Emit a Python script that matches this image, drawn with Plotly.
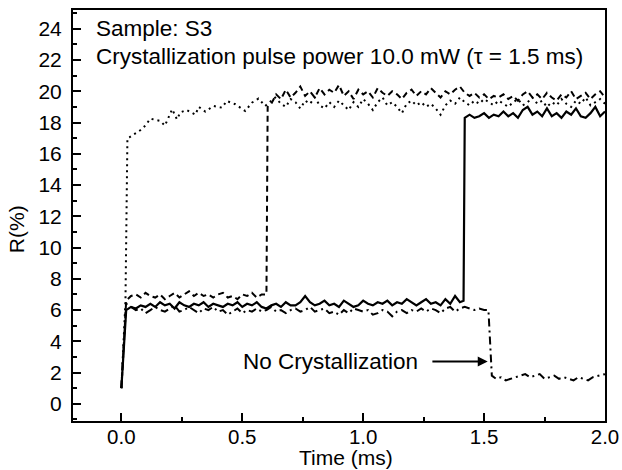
import plotly.graph_objects as go

# ---------------- data ----------------
def grid(a, b, step=0.02):
    n = int(round((b - a) / step)) + 1
    return [round(a + i * step, 3) for i in range(n)]

# Solid curve (crystallizes at ~1.42 ms)
solid_t = [0.0] + grid(0.02, 1.40) + [1.415] + grid(1.42, 2.00)
solid_r = ([1.0] +
           [6.0, 6.2, 6.1, 6.3, 6.2, 6.4, 6.2, 6.5, 6.3, 6.4,
            6.1, 6.5, 6.3, 6.2, 6.4, 6.3, 6.5, 6.2, 6.4, 6.3,
            6.2, 6.4, 6.3, 6.5, 6.2, 6.4, 6.3, 6.5, 6.2, 6.1,
            6.3, 6.4, 6.2, 6.5, 6.3, 6.3, 6.5, 6.9, 6.5, 6.3,
            6.4, 6.6, 6.3, 6.4, 6.2, 6.6, 6.4, 6.2, 6.3, 6.6,
            6.4, 6.3, 6.5, 6.4, 6.6, 6.3, 6.5, 6.4, 6.7, 6.5,
            6.3, 6.5, 6.7, 6.4, 6.5, 6.3, 6.7, 6.4, 6.9, 6.5] +
           [6.6] +
           [18.3, 18.5, 18.3, 18.4, 18.6, 18.3, 18.5, 18.4, 18.7, 18.4,
            18.6, 18.3, 18.8, 19.0, 18.5, 18.7, 18.4, 18.9, 18.4, 18.6,
            18.3, 18.7, 18.5, 18.9, 18.4, 18.3, 18.6, 19.0, 18.4, 18.7])

# Dashed curve (crystallizes at ~0.6 ms)
dash_t = [0.0] + grid(0.02, 0.60) + [0.605] + grid(0.62, 2.00)
dash_r = ([1.0] +
          [6.6, 6.9, 7.0, 6.8, 7.1, 6.9, 6.8, 7.0, 6.7, 6.9,
           7.1, 6.8, 7.0, 7.2, 6.9, 7.1, 6.9, 7.0, 6.8, 7.0,
           7.1, 6.8, 6.9, 6.7, 7.0, 6.9, 7.1, 6.8, 7.0, 7.0] +
          [19.0] +
          [19.2, 19.8, 19.5, 20.1, 19.6, 19.9, 20.3, 19.7, 20.0, 19.6,
           20.2, 19.8, 20.1, 19.9, 20.4, 19.7, 20.0, 19.5, 20.1, 19.8,
           20.0, 19.6, 20.2, 19.9, 19.7, 20.0, 19.8, 19.5, 19.9, 20.1,
           19.7, 20.0, 19.8, 20.2, 19.9, 19.6, 20.0, 19.8, 20.1, 20.3,
           19.9, 19.7, 19.9, 19.6, 19.8, 19.5, 19.7, 19.6, 19.8, 19.5,
           19.7, 19.4, 19.8, 20.0, 19.6, 19.8, 19.5, 19.9, 19.6, 19.4,
           19.8, 19.6, 20.0, 19.5, 19.7, 19.9, 19.5, 19.8, 20.0, 19.6])

# Dotted curve (crystallizes almost immediately)
dot_t = ([0.0, 0.017, 0.025,
          0.033, 0.058, 0.078, 0.099, 0.12, 0.133, 0.161, 0.18, 0.195, 0.21,
          0.23, 0.244, 0.27, 0.306, 0.32, 0.347, 0.381, 0.416, 0.436, 0.471,
          0.512, 0.54, 0.567, 0.595, 0.636] + grid(0.66, 2.00))
dot_r = ([1.0, 6.6, 17.0,
          17.05, 17.3, 17.5, 17.8, 18.25, 18.2, 18.1, 17.8, 18.3, 18.85,
          18.2, 18.65, 18.8, 18.5, 19.0, 18.7, 19.06, 18.95, 19.38, 19.17,
          18.74, 19.27, 19.53, 19.06, 19.6] +
         [19.2, 19.0, 19.5, 19.3, 18.9, 19.4, 19.2, 19.6, 19.1, 18.9,
          19.3, 19.0, 19.4, 19.1, 18.8, 19.3, 19.0, 19.5, 19.2, 18.8,
          19.3, 19.6, 19.1, 19.3, 19.0, 18.6, 19.2, 19.4, 19.1, 19.3,
          19.0, 19.2, 18.9, 18.5, 19.1, 19.4, 19.2, 19.6, 19.3, 19.1,
          19.4, 19.2, 19.5, 19.3, 19.1, 19.4, 19.2, 19.0, 19.3, 19.5,
          19.1, 19.3, 19.6, 19.2, 19.4, 19.0, 19.3, 19.1, 19.5, 19.2,
          19.0, 19.4, 19.2, 19.6, 19.1, 19.3, 19.5, 19.2])

# Dash-dot curve (no crystallization)
dd_t = [0.0] + grid(0.02, 1.50) + [1.518, 1.525, 1.532] + grid(1.55, 1.99) + [2.00]
dd_r = ([1.0] +
        [6.4, 6.2, 6.0, 6.1, 5.8, 6.0, 6.2, 6.0, 5.9, 6.1,
         6.3, 5.9, 6.0, 6.2, 6.0, 5.8, 6.1, 6.0, 6.2, 5.9,
         6.0, 5.7, 5.9, 6.1, 5.8, 6.0, 5.9, 6.1, 5.9, 6.0,
         6.2, 5.9, 6.0, 5.8, 6.0, 6.1, 5.9, 6.0, 6.2, 5.9,
         6.0, 6.1, 5.8, 5.9, 5.7, 6.0, 5.8, 6.1, 6.0, 5.9,
         6.0, 5.7, 5.8, 6.0, 5.9, 5.6, 5.9, 6.0, 5.8, 6.0,
         5.9, 6.1, 5.9, 6.1, 6.0, 5.8, 6.1, 6.2, 5.9, 6.1,
         6.2, 6.1, 6.0, 6.1, 6.0] +
        [6.0, 4.0, 1.8] +
        [1.6, 1.7, 1.5, 1.6, 1.7, 1.8, 1.9, 1.7, 1.8, 1.9,
         1.6, 1.7, 1.8, 1.6, 1.7, 1.6, 1.5, 1.7, 1.6, 1.5,
         1.7, 1.8, 1.9] +
        [1.9])

for a, b in [(solid_t, solid_r), (dash_t, dash_r), (dot_t, dot_r), (dd_t, dd_r)]:
    assert len(a) == len(b), (len(a), len(b))

x_ticks = [0.0, 0.5, 1.0, 1.5, 2.0]
x_tick_labels = ["0.0", "0.5", "1.0", "1.5", "2.0"]
y_ticks = list(range(0, 25, 2))

FONT = "Liberation Sans, Arial, Helvetica, sans-serif"

# ---------------- figure ----------------
fig = go.Figure()
fig.add_trace(go.Scatter(x=dot_t, y=dot_r, mode="lines",
                         line=dict(color="black", width=2, dash="2px,4px")))
fig.add_trace(go.Scatter(x=dash_t, y=dash_r, mode="lines",
                         line=dict(color="black", width=2, dash="6px,4px")))
fig.add_trace(go.Scatter(x=dd_t, y=dd_r, mode="lines",
                         line=dict(color="black", width=2, dash="8px,4px,2px,4px")))
fig.add_trace(go.Scatter(x=solid_t, y=solid_r, mode="lines",
                         line=dict(color="black", width=2.2)))

axis_common = dict(
    showgrid=False, zeroline=False, showline=True, linecolor="black",
    linewidth=2, mirror=True, ticks="inside", ticklen=8, tickwidth=1.5,
    tickcolor="black", automargin=False,
)
fig.update_xaxes(range=[-0.2, 2.0], tickvals=x_ticks, ticktext=x_tick_labels,
                 ticklabelstandoff=-4,
                 tickfont=dict(family=FONT, size=20.5, color="black"),
                 minor=dict(dtick=0.25, tick0=0, ticks="inside", ticklen=4,
                            tickwidth=1.5, tickcolor="black"),
                 **axis_common)
fig.update_yaxes(range=[-1.1, 25.2], tickvals=y_ticks, ticklabelstandoff=5,
                 tickfont=dict(family=FONT, size=21, color="black"),
                 minor=dict(dtick=1, tick0=0, ticks="inside", ticklen=4,
                            tickwidth=1.5, tickcolor="black"),
                 **axis_common)

ann_font = dict(family=FONT, size=22.5, color="black")
fig.add_annotation(x=-0.114, y=24.04, xref="x", yref="y", text="Sample: S3",
                   showarrow=False, xanchor="left", yanchor="middle", font=ann_font)
fig.add_annotation(x=-0.114, y=22.24, xref="x", yref="y",
                   text="Crystallization pulse power 10.0 mW (\u03c4 = 1.5 ms)",
                   showarrow=False, xanchor="left", yanchor="middle", font=ann_font)
fig.add_annotation(x=1.236, y=2.7, xref="x", yref="y", text="No Crystallization",
                   showarrow=False, xanchor="right", yanchor="middle", font=ann_font)
fig.add_annotation(x=1.515, y=2.7, xref="x", yref="y", ax=1.28, ay=2.7,
                   axref="x", ayref="y", text="", showarrow=True,
                   arrowhead=2, arrowsize=1, arrowwidth=2, arrowcolor="black")
# axis titles
title_font = dict(family=FONT, size=21, color="black")
fig.add_annotation(x=-0.107, y=0.467, xref="paper", yref="paper", text="R(%)",
                   showarrow=False, textangle=-90, xanchor="center",
                   yanchor="middle", font=title_font)
fig.add_annotation(x=0.514, y=-0.090, xref="paper", yref="paper", text="Time (ms)",
                   showarrow=False, xanchor="center", yanchor="middle", font=title_font)

fig.update_layout(width=622, height=470, showlegend=False,
                  margin=dict(l=73, r=17, t=10, b=49, autoexpand=False),
                  paper_bgcolor="white", plot_bgcolor="white",
                  font=dict(family=FONT, color="black"))

fig.write_html("out.html")
